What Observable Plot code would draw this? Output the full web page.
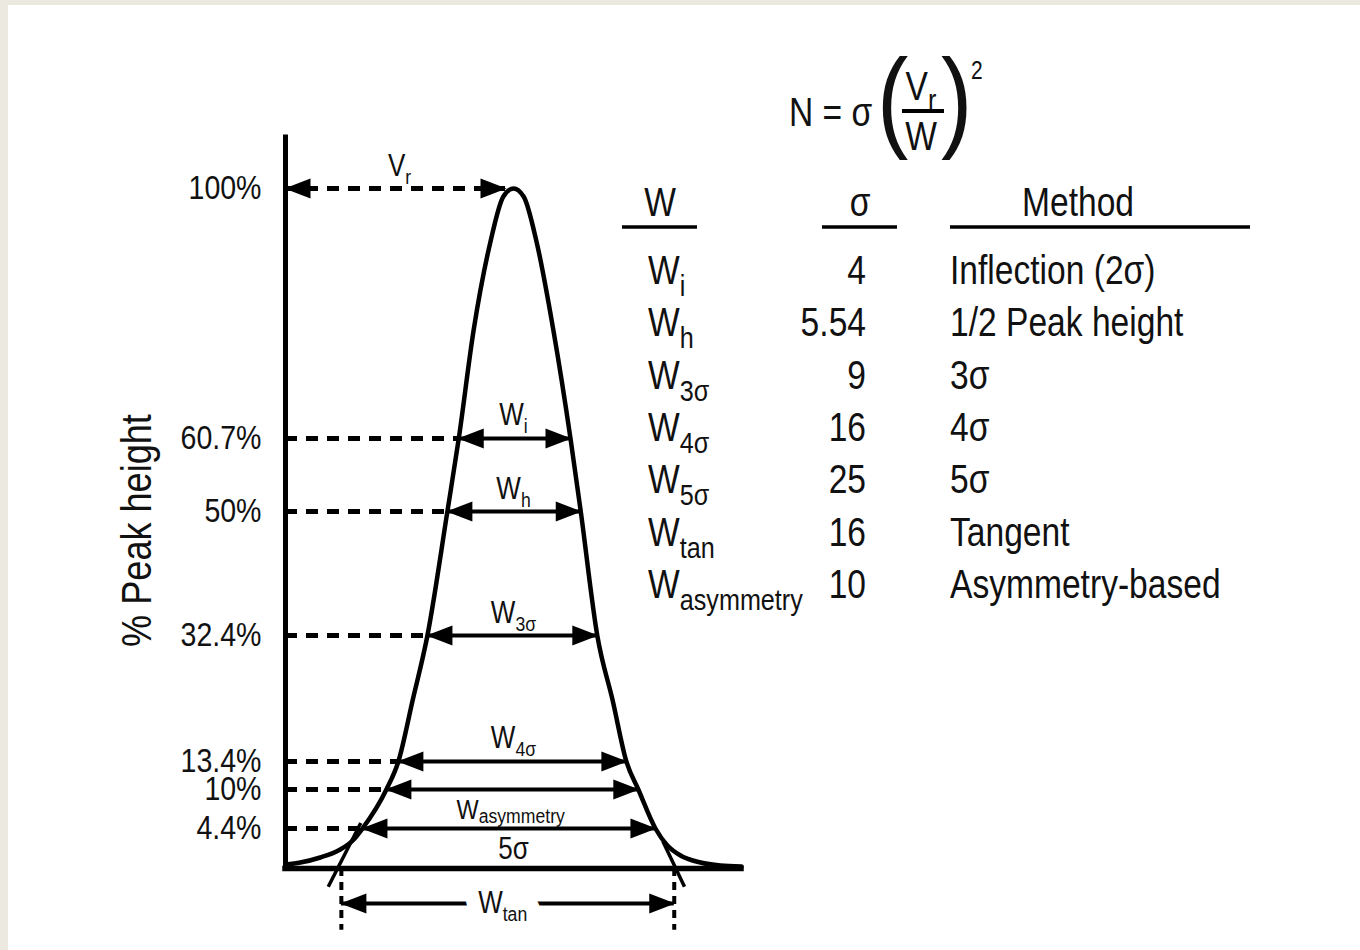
<!DOCTYPE html>
<html>
<head>
<meta charset="utf-8">
<script src="https://cdn.jsdelivr.net/npm/d3@7"></script>
<script src="https://cdn.jsdelivr.net/npm/@observablehq/plot@0.6"></script>
<style>
  html, body { margin: 0; padding: 0; background: #ECEAE0; }
  #sheet { position: absolute; left: 8px; top: 5px; width: 1352px; height: 945px; background: #fff; overflow: hidden; }
  #sheet svg { position: absolute; left: 0; top: 0; }
  #notes { position: absolute; left: 0; top: 0; pointer-events: none; }
</style>
</head>
<body>
<div id="sheet"></div>
<script>
const FONT = '"Liberation Sans", Arial, Helvetica, sans-serif';
const NARROW = 0.84;   // horizontal squeeze giving a narrow Helvetica look

// Heights (% of peak) at which the widths are taken, and where the peak is crossed
// (position in σ units from the apex)
const levels     = [60.7, 50, 32.4, 13.4, 10, 4.4];
const levelLeft  = [-0.96, -1.16, -1.51, -2.02, -2.23, -2.65];
const levelRight = [1.0, 1.18, 1.47, 1.98, 2.19, 2.49];
const tickValues = [100, 60.7, 50, 32.4, 13.4, 10, 4.4];

// Peak profile
const profileX = [-4.0, -3.74, -3.39, -3.04, -2.82, -2.65, -2.23, -2.02, -1.77, -1.51, -1.16, -0.96, -0.70, -0.40, -0.18, 0,
                  0.18, 0.40, 0.70, 1.0, 1.18, 1.47, 1.74, 1.98, 2.19, 2.49, 2.70, 2.93, 3.28, 3.63, 4.0];
const profileY = [0.44, 0.66, 1.21, 2.09, 3.08, 4.4, 10, 13.4, 22.6, 32.4, 50, 60.7, 77.7, 91.8, 98.7, 100,
                  98.7, 91.8, 77.7, 60.7, 50, 32.4, 22.6, 13.4, 10, 4.4, 2.53, 1.43, 0.66, 0.33, 0.22];

// Axis extent, retention arrow and tangent construction
const axisX = -4, axisTop = 108, baseRight = 4;
const apexArrowEnd = -0.14;
const tangentX1 = [-2.68, 2.62], tangentY1 = [5.2, 3.0];
const tangentX2 = [-3.25, 3.00], tangentY2 = [-2.0, -2.0];
const tanFeet = [-3.02, 2.82];      // tangent/baseline intersections
const tanArrowLevel = -3.85, tanDropEnd = -6.8;

// Labels on the diagram
const aboveLabels = [
  {x: -2, y: 100, text: "V_r"},
  {x: 0, y: 60.7, text: "W_i"},
  {x: 0, y: 50, text: "W_h"},
  {x: 0, y: 32.4, text: "W_3σ"},
  {x: 0, y: 13.4, text: "W_4σ"}
];
const asymLabel = [{x: -0.05, y: 4.4, text: "W_asymmetry"}];
const belowLabels = [{x: 0, y: 4.4, text: "5σ"}];
const tanLabel = [{x: -0.19, y: tanArrowLevel, text: "W_tan"}];

// Table: width definitions, σ factor and method
const widthNames = ["W_i", "W_h", "W_3σ", "W_4σ", "W_5σ", "W_tan", "W_asymmetry"];
const sigmaFactors = ["4", "5.54", "9", "16", "25", "16", "10"];
const methods = ["Inflection (2σ)", "1/2 Peak height", "3σ", "4σ", "5σ", "Tangent", "Asymmetry-based"];
const headers = ["W", "σ", "Method"];

// The height axis is drawn schematically: the marked levels are spread out
// non-uniformly, so % of peak height goes through a piecewise mapping first.
const schematic = d3.scaleLinear()
  .domain([0, 4.4, 10, 13.4, 32.4, 50, 60.7, 100])
  .range([0, 5.88, 11.62, 15.74, 34.26, 52.5, 63.24, 100]);
const sy = v => schematic(v);

// ---- derived tables for the marks ----
const profile = profileX.map((x, i) => ({x, y: profileY[i]}));
const widthArrows = levels.map((y, i) => ({y, x1: levelLeft[i], x2: levelRight[i]}));
const tangents = tangentX1.map((x1, i) => ({x1, y1: tangentY1[i], x2: tangentX2[i], y2: tangentY2[i]}));
const heads = [
  {x: axisX, y: 100, dir: 180}, {x: apexArrowEnd, y: 100, dir: 0},
  ...widthArrows.flatMap(d => [{x: d.x1, y: d.y, dir: 180}, {x: d.x2, y: d.y, dir: 0}]),
  {x: tanFeet[0], y: tanArrowLevel, dir: 180}, {x: tanFeet[1], y: tanArrowLevel, dir: 0}
];

// Filled arrowhead with its tip on the anchor point, pointing right
const arrowHead = {
  draw(ctx) { ctx.moveTo(1, 0); ctx.lineTo(-25, -10); ctx.lineTo(-25, 10); ctx.closePath(); }
};

const ink = "#000", textInk = "#111";
const labelStyle = {x: "x", y: d => sy(d.y), text: "text", fontSize: 31, fill: textInk};
const plot = Plot.plot({
  width: 1352, height: 945,
  marginLeft: 277, marginRight: 619, marginTop: 183, marginBottom: 82,
  style: {fontFamily: FONT, fontSize: "34px", color: textInk, background: "transparent"},
  x: {domain: [-4, 4], axis: null},
  y: {domain: [0, 100], axis: null},
  marks: [
    // tangent-width arrow, with a clearing for its label
    Plot.ruleY([tanArrowLevel], {y: d => sy(d), x1: tanFeet[0], x2: tanFeet[1], stroke: ink, strokeWidth: 4}),
    Plot.text(tanLabel, {...labelStyle, lineAnchor: "middle", fill: "white", stroke: "white", strokeWidth: 34}),
    // axes
    Plot.ruleX([axisX], {y1: sy(0), y2: sy(axisTop), stroke: ink, strokeWidth: 5, strokeLinecap: "square"}),
    Plot.ruleY([sy(0)], {x1: axisX, x2: baseRight, stroke: ink, strokeWidth: 5.5, strokeLinecap: "square"}),
    Plot.text(tickValues, {x: axisX, y: d => sy(d), text: d => d + "%", textAnchor: "end", dx: -24, fontSize: 34, fill: textInk}),
    Plot.text(["% Peak height"], {frameAnchor: "left", textAnchor: "middle", rotate: -90, dx: -148, dy: 2, fontSize: 43, fill: textInk}),
    // dashed guides from the axis
    Plot.ruleY([100], {y: d => sy(d), x1: axisX, x2: apexArrowEnd, stroke: ink, strokeWidth: 5, strokeDasharray: "12,9"}),
    Plot.ruleY(widthArrows, {y: d => sy(d.y), x1: axisX, x2: "x1", stroke: ink, strokeWidth: 5, strokeDasharray: "12,9"}),
    // tangents and their feet
    Plot.link(tangents, {x1: "x1", y1: d => sy(d.y1), x2: "x2", y2: d => sy(d.y2), stroke: ink, strokeWidth: 3.5}),
    Plot.ruleX(tanFeet, {y1: sy(0), y2: sy(tanDropEnd), stroke: ink, strokeWidth: 4, strokeDasharray: "8,6"}),
    // peak
    Plot.line(profile, {x: "x", y: d => sy(d.y), curve: "monotone-x", stroke: ink, strokeWidth: 4.5}),
    // width arrows
    Plot.ruleY(widthArrows, {y: d => sy(d.y), x1: "x1", x2: "x2", stroke: ink, strokeWidth: 4}),
    Plot.dot(heads, {x: "x", y: d => sy(d.y), rotate: "dir", symbol: arrowHead, fill: ink, stroke: null}),
    // labels
    Plot.text(aboveLabels, {...labelStyle, lineAnchor: "bottom", dy: -13}),
    Plot.text(asymLabel, {...labelStyle, lineAnchor: "bottom", dy: -10, fontSize: 28}),
    Plot.text(belowLabels, {...labelStyle, lineAnchor: "bottom", dy: 30}),
    Plot.text(tanLabel, {...labelStyle, lineAnchor: "middle"})
  ]
});
document.getElementById("sheet").appendChild(plot);

const NS = "http://www.w3.org/2000/svg";
// Turn "W_sub" into a base glyph followed by a lowered, smaller subscript
function subscript(el, str, subSize, shift) {
  const [base, sub] = str.split("_");
  while (el.firstChild) el.removeChild(el.firstChild);
  const a = document.createElementNS(NS, "tspan");
  a.textContent = base;
  el.appendChild(a);
  if (sub) {
    const b = document.createElementNS(NS, "tspan");
    b.setAttribute("font-size", subSize);
    b.setAttribute("dy", shift);
    b.textContent = sub;
    el.appendChild(b);
  }
}
// Squeeze a text element horizontally around its own anchor point
function narrow(el) {
  let tr = el.getAttribute("transform") || "";
  const x = el.getAttribute("x");
  if (x != null && !/em$/.test(x)) {
    tr = `translate(${+x},0) ` + tr;
    el.removeAttribute("x");
  }
  el.setAttribute("transform", `${tr} scale(${NARROW},1)`);
}
d3.select(plot).selectAll("text").each(function() {
  const s = this.textContent;
  if (s.includes("_")) subscript(this, s, 21, s.length > 8 ? 4 : 8);
  narrow(this);
});

// ---- plate count formula and width table ----
const notes = d3.select("body").append("svg").attr("id", "notes")
  .attr("width", 1360).attr("height", 950)
  .style("font-family", FONT).attr("fill", textInk);

function put(x, y, str, size, anchor = "start", subSize, shift) {
  const t = notes.append("g").attr("transform", `translate(${x},${y}) scale(${NARROW},1)`)
    .append("text").attr("font-size", size).attr("text-anchor", anchor);
  subscript(t.node(), str, subSize || size * 0.75, shift || size * 0.3);
  return t;
}

// N = σ (Vr / W)^2
put(789, 126, "N = σ", 40);
put(877, 137, "(", 112);
put(921, 100, "V_r", 40, "middle", 30, 10);
notes.append("line").attr("x1", 902).attr("x2", 944).attr("y1", 111).attr("y2", 111).attr("stroke", ink).attr("stroke-width", 4);
put(921, 150, "W", 40, "middle");
put(941, 137, ")", 112);
put(971, 79, "2", 25);

// header row
const headerX = [660, 860, 1078];
const ruleSpan = [[622, 697], [822, 897], [950, 1250]];
headers.forEach((h, i) => {
  put(headerX[i], 216, h, 40, "middle");
  notes.append("line").attr("x1", ruleSpan[i][0]).attr("x2", ruleSpan[i][1])
    .attr("y1", 227).attr("y2", 227).attr("stroke", ink).attr("stroke-width", 3.5);
});
widthNames.forEach((w, i) => {
  const y = 284 + i * 52.3;
  put(648, y, w, 40, "start", 30, 12);
  put(866, y, sigmaFactors[i], 40, "end");
  put(950, y, methods[i], 40, "start");
});
</script>
</body>
</html>
